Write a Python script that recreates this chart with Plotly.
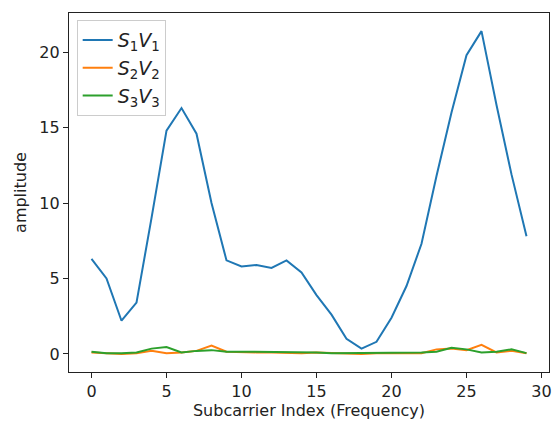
import plotly.graph_objects as go

subcarriers = list(range(30))
s1v1 = [6.3, 5.0, 2.2, 3.4, 9.0, 14.8, 16.3, 14.6, 10.0, 6.2, 5.8, 5.9, 5.7, 6.2, 5.4, 3.9, 2.6, 1.0, 0.35, 0.8,
        2.4, 4.5, 7.3, 11.8, 16.0, 19.8, 21.4, 16.5, 11.9, 7.8]
s2v2 = [0.1, 0.05, 0.0, 0.05, 0.2, 0.05, 0.1, 0.2, 0.55, 0.15, 0.1, 0.1, 0.1, 0.05, 0.05, 0.1, 0.05, 0.05, 0.0, 0.05,
        0.05, 0.1, 0.05, 0.3, 0.35, 0.25, 0.6, 0.1, 0.2, 0.05]
s3v3 = [0.15, 0.05, 0.05, 0.1, 0.35, 0.45, 0.1, 0.2, 0.25, 0.15, 0.15, 0.15, 0.15, 0.1, 0.1, 0.1, 0.05, 0.05, 0.05, 0.05,
        0.05, 0.1, 0.1, 0.15, 0.4, 0.3, 0.1, 0.15, 0.3, 0.05]
names = ["<i>S</i><sub>1</sub><i>V</i><sub>1</sub>",
         "<i>S</i><sub>2</sub><i>V</i><sub>2</sub>",
         "<i>S</i><sub>3</sub><i>V</i><sub>3</sub>"]
colors = ["#1f77b4", "#ff7f0e", "#2ca02c"]
x_ticks = [0, 5, 10, 15, 20, 25, 30]
y_ticks = [0, 5, 10, 15, 20]

fig = go.Figure()
for ys, nm, c in zip([s1v1, s2v2, s3v3], names, colors):
    fig.add_trace(go.Scatter(x=subcarriers, y=ys, mode="lines", name=nm,
                             line=dict(color=c, width=2)))

font = dict(family="DejaVu Sans", size=16, color="#222222")
axis_common = dict(showline=True, linecolor="#222222", linewidth=1.2, mirror=True,
                   ticks="outside", ticklen=5, tickcolor="#222222", showgrid=False,
                   zeroline=False, tickfont=font)
fig.update_layout(
    width=556, height=421,
    margin=dict(l=69, r=4, t=13, b=49),
    plot_bgcolor="white", paper_bgcolor="white",
    font=font,
    xaxis=dict(range=[-1.5, 30.5], tickvals=x_ticks,
               title=dict(text="Subcarrier Index (Frequency)", font=font, standoff=2),
               **axis_common),
    yaxis=dict(range=[-1.2, 22.6], tickvals=y_ticks,
               title=dict(text="amplitude", font=font, standoff=8),
               **axis_common),
    legend=dict(x=0.016, y=0.98, xanchor="left", yanchor="top",
                bgcolor="rgba(255,255,255,0.8)", bordercolor="#cccccc", borderwidth=1,
                tracegroupgap=0,
                font=dict(family="DejaVu Sans", size=19, color="#222222")),
)
fig.write_html("out.html")
